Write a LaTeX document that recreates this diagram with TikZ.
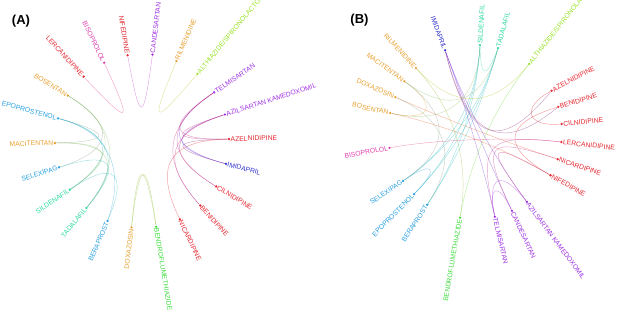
\documentclass[tikz,border=0pt]{standalone}
\usepackage{fontspec}
\setmainfont{Liberation Sans}
\definecolor{cred}{HTML}{E3262F}
\definecolor{cpink}{HTML}{E040B0}
\definecolor{cpurp}{HTML}{A133E3}
\definecolor{corng}{HTML}{E8A030}
\definecolor{cylgr}{HTML}{9BE22C}
\definecolor{cindg}{HTML}{3333CC}
\definecolor{cblue}{HTML}{2AA0E0}
\definecolor{cteal}{HTML}{2ED8A0}
\definecolor{cgrn}{HTML}{40DD40}
\tikzset{
  dot/.style={circle, inner sep=0pt, minimum size=2.6pt, draw=none},
  lbl/.style={inner sep=0.9pt, font=\fontsize{6.8}{8}\selectfont},
  edge/.style={line width=0.45pt, draw opacity=0.45},
  panel/.style={font=\fontsize{13}{15}\selectfont\bfseries, inner sep=0pt},
}
\newcommand{\drug}[4]{%
  \node[dot, fill=#3] (#1) at (#2:87) {};
  \pgfmathtruncatemacro{\dleft}{cos(#2)<0}%
  \ifnum\dleft=1
    \pgfmathsetmacro{\drot}{#2+180}%
    \node[lbl, text=#3, rotate=\drot, anchor=east] (#1-t) at (#2:87.6) {#4};
  \else
    \node[lbl, text=#3, rotate=#2, anchor=west] (#1-t) at (#2:87.6) {#4};
  \fi}
\newcommand{\edg}[5]{\draw[edge, draw=#5] (#1) .. controls (#2) and (#3) .. (#4);}
\begin{document}
\begin{tikzpicture}[x=1pt, y=1pt]
\useasboundingbox (0,0) rectangle (617,-314);
\node[panel] (pA) at (21,-21) {(A)};
\node[panel] (pB) at (359.5,-20.5) {(B)};
% ---------------- Panel A
\begin{scope}[shift={(142,-141)}]
\drug{A-azel}{1.3}{cred}{AZELNIDIPINE}
\drug{A-azil}{17.7}{cpurp}{AZILSARTAN KAMEDOXOMIL}
\drug{A-telm}{34.0}{cpurp}{TELMISARTAN}
\drug{A-alth}{50.4}{cylgr}{ALTHIAZIDE/SPIRONOLACTONE}
\drug{A-rilm}{66.7}{corng}{RILMENIDINE}
\drug{A-cand}{83.1}{cpurp}{CANDESARTAN}
\drug{A-nife}{99.5}{cred}{NIFEDIPINE}
\drug{A-biso}{115.8}{cpink}{BISOPROLOL}
\drug{A-lerc}{132.2}{cred}{LERCANIDIPINE}
\drug{A-bose}{148.5}{corng}{BOSENTAN}
\drug{A-epop}{164.9}{cblue}{EPOPROSTENOL}
\drug{A-maci}{181.3}{corng}{MACITENTAN}
\drug{A-sele}{197.6}{cblue}{SELEXIPAG}
\drug{A-sild}{214.0}{cteal}{SILDENAFIL}
\drug{A-tada}{230.3}{cteal}{TADALAFIL}
\drug{A-bera}{246.7}{cblue}{BERAPROST}
\drug{A-doxa}{263.1}{corng}{DOXAZOSIN}
\drug{A-bend}{279.4}{cgrn}{BENDROFLUMETHIAZIDE}
\drug{A-nica}{295.8}{cred}{NICARDIPINE}
\drug{A-beni}{312.1}{cred}{BENIDIPINE}
\drug{A-ciln}{328.5}{cred}{CILNIDIPINE}
\drug{A-imid}{344.8}{cindg}{IMIDAPRIL}
\edg{A-lerc}{128:18}{120:18}{A-biso}{cpink!70!cred}
\edg{A-nife}{96:17}{86:17}{A-cand}{cpink!50!cpurp}
\edg{A-rilm}{63:17}{55:17}{A-alth}{corng!50!cylgr}
\edg{A-doxa}{262:12}{284:22}{A-bend}{corng!50!cgrn}
\edg{A-doxa}{258:22}{280:12}{A-bend}{corng!50!cgrn}
\edg{A-bose}{148.5:30}{197.6:30}{A-sele}{corng!50!cblue}
\edg{A-bose}{148.5:30}{214:30}{A-sild}{corng!50!cteal}
\edg{A-bose}{148.5:30}{230.3:30}{A-tada}{corng!50!cteal}
\edg{A-epop}{164.9:30}{214:30}{A-sild}{cblue!50!cteal}
\edg{A-epop}{164.9:30}{230.3:30}{A-tada}{cblue!50!cteal}
\edg{A-epop}{164.9:30}{181.3:30}{A-maci}{cblue!50!corng}
\edg{A-maci}{181.3:30}{214:30}{A-sild}{corng!50!cteal}
\edg{A-maci}{181.3:30}{230.3:30}{A-tada}{corng!50!cteal}
\edg{A-sele}{197.6:30}{230.3:30}{A-tada}{cblue!50!cteal}
\edg{A-bera}{246.7:38}{214:30}{A-sild}{cblue!50!cteal}
\edg{A-bera}{240:36}{164.9:30}{A-epop}{cblue}
\edg{A-telm}{34:27}{344.8:27}{A-imid}{cpurp!50!cindg}
\edg{A-azil}{17.7:27}{344.8:27}{A-imid}{cpurp!50!cindg}
\edg{A-azel}{1.3:27}{344.8:27}{A-imid}{cred!50!cindg}
\edg{A-telm}{34:27}{1.3:27}{A-azel}{cpurp!50!cred}
\edg{A-azil}{17.7:27}{1.3:27}{A-azel}{cpurp!50!cred}
\edg{A-telm}{34:27}{328.5:27}{A-ciln}{cpurp!50!cred}
\edg{A-azil}{17.7:27}{312.1:27}{A-beni}{cpurp!50!cred}
\edg{A-azel}{1.3:27}{295.8:27}{A-nica}{cred}
\edg{A-azil}{17.7:27}{328.5:27}{A-ciln}{cpurp!50!cred}
\edg{A-telm}{34:27}{312.1:27}{A-beni}{cpurp!50!cred}
\end{scope}
% ---------------- Panel B
\begin{scope}[shift={(475,-132)}]
\drug{B-imid}{110.1}{cindg}{IMIDAPRIL}
\drug{B-sild}{86.7}{cteal}{SILDENAFIL}
\drug{B-tada}{74.7}{cteal}{TADALAFIL}
\drug{B-alth}{51.5}{cylgr}{ALTHIAZIDE/SPIRONOLACTONE}
\drug{B-azel}{28.3}{cred}{AZELNIDIPINE}
\drug{B-beni}{16.8}{cred}{BENIDIPINE}
\drug{B-ciln}{5.3}{cred}{CILNIDIPINE}
\drug{B-lerc}{-6.6}{cred}{LERCANIDIPINE}
\drug{B-nica}{-18.2}{cred}{NICARDIPINE}
\drug{B-nife}{-29.8}{cred}{NIFEDIPINE}
\drug{B-azil}{-53.4}{cpurp}{AZILSARTAN KAMEDOXOMIL}
\drug{B-cand}{-64.9}{cpurp}{CANDESARTAN}
\drug{B-telm}{-76.8}{cpurp}{TELMISARTAN}
\drug{B-bend}{260.1}{cgrn}{BENDROFLUMETHIAZIDE}
\drug{B-bera}{236.7}{cblue}{BERAPROST}
\drug{B-epop}{225.5}{cblue}{EPOPROSTENOL}
\drug{B-sele}{214.2}{cblue}{SELEXIPAG}
\drug{B-biso}{190.5}{cpink}{BISOPROLOL}
\drug{B-bose}{167.4}{corng}{BOSENTAN}
\drug{B-doxa}{156.4}{corng}{DOXAZOSIN}
\drug{B-maci}{144.3}{corng}{MACITENTAN}
\drug{B-rilm}{132.7}{corng}{RILMENIDINE}
\edg{B-sild}{86.7:30}{214.2:30}{B-sele}{cteal!50!cblue}
\edg{B-sild}{86.7:30}{225.5:30}{B-epop}{cteal!50!cblue}
\edg{B-tada}{74.7:30}{236.7:30}{B-bera}{cteal!50!cblue}
\edg{B-tada}{74.7:30}{214.2:30}{B-sele}{cteal!50!cblue}
\edg{B-sild}{86.7:30}{236.7:30}{B-bera}{cteal!50!cblue}
\edg{B-tada}{74.7:30}{225.5:30}{B-epop}{cteal!50!cblue}
\edg{B-sild}{84:54}{78:54}{B-tada}{cteal}
\edg{B-sele}{214.2:50}{225.5:50}{B-epop}{cblue}
\edg{B-imid}{110.1:30}{-76.8:30}{B-telm}{cindg!40!cpurp}
\edg{B-imid}{110.1:30}{-64.9:30}{B-cand}{cindg!40!cpurp}
\edg{B-imid}{110.1:30}{-53.4:30}{B-azil}{cindg!40!cpurp}
\edg{B-imid}{-5,-20}{30,-15}{B-azel}{cindg!50!cred}
\edg{B-imid}{-5,-18}{35,-14}{B-beni}{cindg!50!cred}
\edg{B-biso}{190.5:40}{-6.6:40}{B-lerc}{cpink!60!cred}
\edg{B-bose}{167.4:45}{144.3:45}{B-maci}{corng}
\edg{B-bose}{167.4:30}{86.7:30}{B-sild}{corng!50!cteal}
\edg{B-maci}{144.3:30}{74.7:30}{B-tada}{corng!50!cteal}
\edg{B-doxa}{156.4:30}{-18.2:30}{B-nica}{corng!50!cred}
\edg{B-bose}{167.4:30}{-29.8:30}{B-nife}{corng!50!cred}
\edg{B-rilm}{132.7:30}{260.1:30}{B-bend}{corng!50!cgrn}
\edg{B-alth}{51.5:30}{260.1:30}{B-bend}{cylgr!50!cgrn}
\edg{B-maci}{144.3:30}{214.2:30}{B-sele}{corng!50!cblue}
\edg{B-doxa}{156.4:30}{236.7:30}{B-bera}{corng!50!cblue}
\edg{B-rilm}{132.7:30}{51.5:30}{B-alth}{corng!50!cylgr}
\edg{B-azel}{28.3:52}{5.3:52}{B-ciln}{cred}
\edg{B-beni}{16.8:30}{-29.8:30}{B-nife}{cred}
\edg{B-telm}{-76.8:12}{-6.6:12}{B-lerc}{cpurp!50!cred}
\edg{B-cand}{-64.9:12}{-18.2:12}{B-nica}{cpurp!50!cred}
\edg{B-azil}{-53.4:15}{-29.8:15}{B-nife}{cpurp!50!cred}
\edg{B-telm}{-75:45}{-55:45}{B-azil}{cpurp}
\edg{B-telm}{-76.8:55}{-64.9:55}{B-cand}{cpurp}
\end{scope}
\end{tikzpicture}
\end{document}
